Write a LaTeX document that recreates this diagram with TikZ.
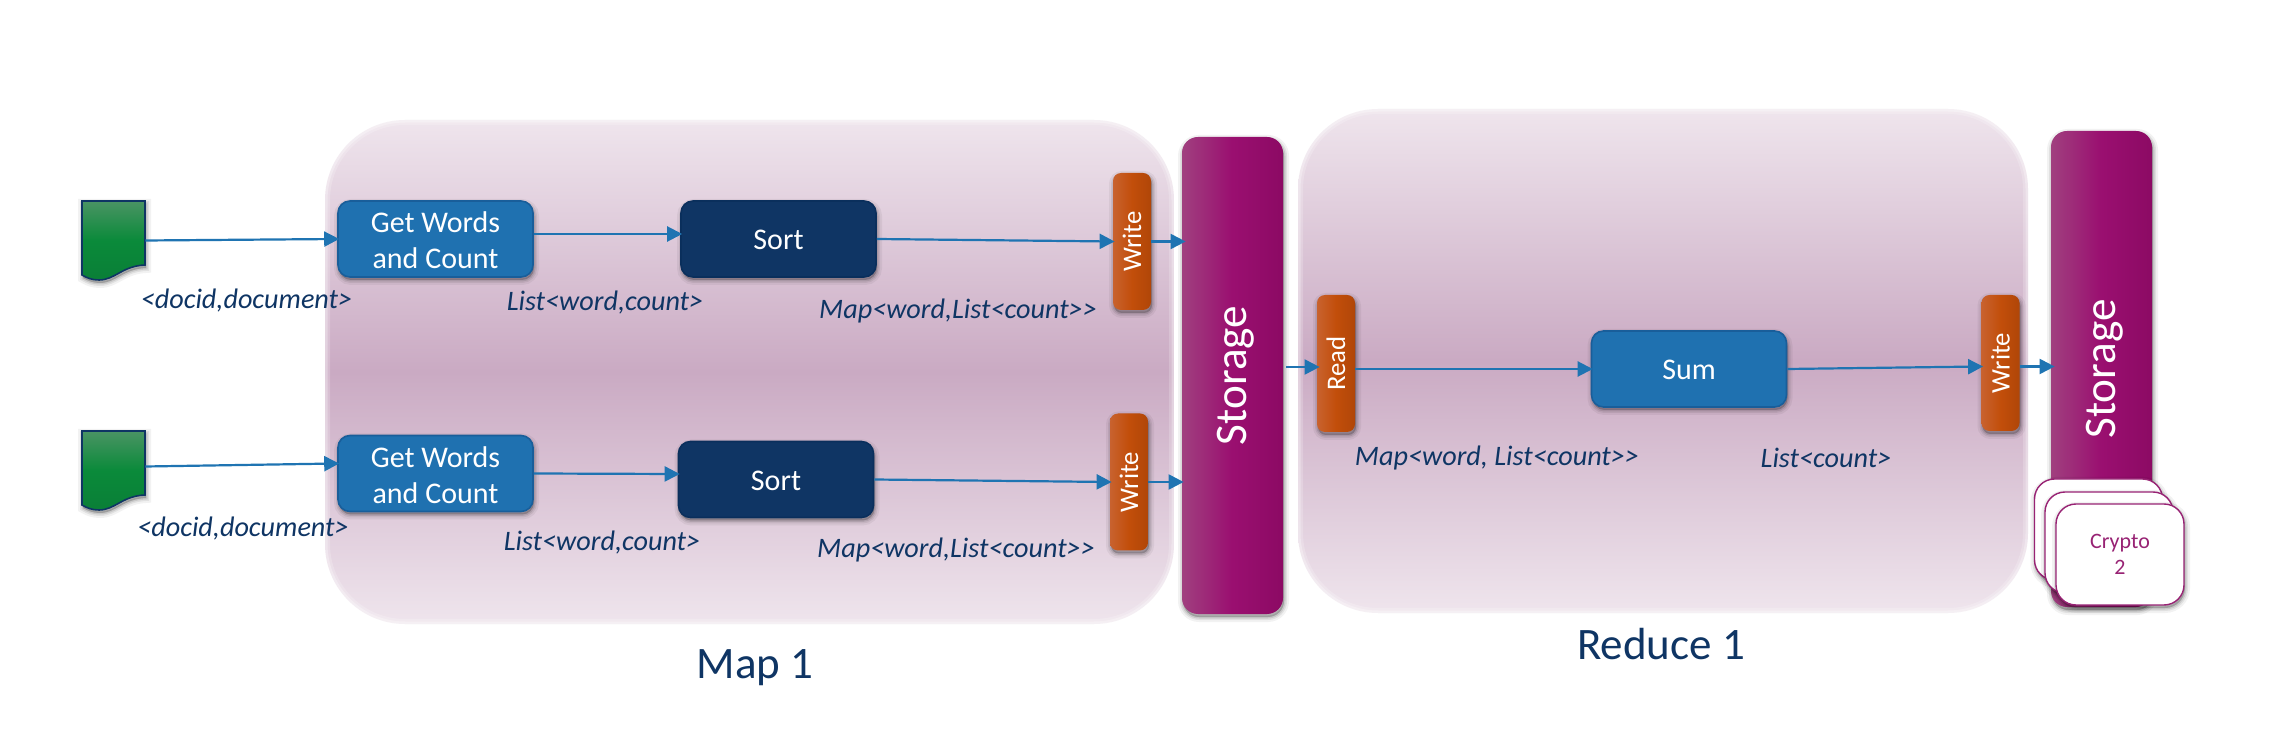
\documentclass[tikz,border=0pt]{standalone}
\usepackage{fontspec}
\setmainfont{Carlito}
\usetikzlibrary{arrows.meta,shadows}
\definecolor{navy}{HTML}{0F3564}
\definecolor{flow}{HTML}{1F74B2}
\definecolor{bluebox}{HTML}{1F71B0}
\definecolor{blueedge}{HTML}{195E9A}
\definecolor{darkedge}{HTML}{0A2F5C}
\definecolor{paneledge}{HTML}{EFE5ED}
\definecolor{panelmid}{HTML}{CAAAC3}
\definecolor{plumL}{HTML}{A0407F}
\definecolor{plumM}{HTML}{9A0F70}
\definecolor{plumR}{HTML}{8C0A64}
\definecolor{orgL}{HTML}{C8622F}
\definecolor{orgM}{HTML}{C24E0A}
\definecolor{orgR}{HTML}{B04608}
\definecolor{grnT}{HTML}{4A9464}
\definecolor{grnM}{HTML}{0A8A3A}
\definecolor{grnB}{HTML}{0A7F37}
\definecolor{cardedge}{HTML}{982374}
\tikzset{
  softshadow/.style={
    preaction={draw=black,fill=black,line width=5pt,opacity=.05,transform canvas={xshift=.5pt,yshift=-1.5pt}},
    preaction={draw=black,fill=black,line width=3pt,opacity=.07,transform canvas={xshift=.5pt,yshift=-1.5pt}},
    preaction={draw=black,fill=black,line width=1.5pt,opacity=.10,transform canvas={xshift=.5pt,yshift=-1.5pt}}},
  panel/.style={rounded corners=40pt,inner sep=0pt,top color=paneledge,bottom color=paneledge,middle color=panelmid,
    postaction={draw=white,line width=5pt,opacity=.2},
    postaction={draw=white,line width=2.5pt,opacity=.3}},
  task/.style={softshadow,rounded corners=6pt,inner sep=0pt,text=white,font=\fontsize{15}{18}\selectfont,line width=.8pt},
  bluetask/.style={task,fill=bluebox,draw=blueedge,minimum width=97.5pt,minimum height=38pt},
  darktask/.style={task,fill=navy,draw=darkedge,minimum width=97.5pt,minimum height=38pt},
  iobox/.style={softshadow,rounded corners=4pt,inner sep=0pt,left color=orgL,right color=orgR,middle color=orgM,text=white,
    minimum width=19pt,minimum height=68.5pt,font=\fontsize{13.4}{16}\selectfont},
  store/.style={softshadow,rounded corners=8pt,inner sep=0pt,left color=plumL,right color=plumR,middle color=plumM,text=white,
    minimum width=50.5pt,font=\fontsize{22.6}{26}\selectfont},
  card/.style={softshadow,rounded corners=10pt,inner sep=0pt,fill=white,draw=cardedge,line width=.7pt,text=cardedge,align=center,
    minimum width=64pt,minimum height=50.5pt,font=\fontsize{11}{13}\selectfont},
  note/.style={inner sep=0pt,text=navy,font=\fontsize{14.1}{18}\selectfont\itshape},
  title/.style={inner sep=0pt,text=navy,font=\fontsize{22.5}{26}\selectfont},
  docframe/.style={inner sep=0pt,minimum width=31.5pt,minimum height=39.5pt},
  docshape/.style={softshadow,draw=navy,line width=.8pt,top color=grnT,bottom color=grnB,middle color=grnM},
  flowline/.style={draw=flow,line width=1.1pt,-{Triangle[length=7.5pt,width=7.5pt]},shorten >=-1pt},
}
\newcommand{\docicon}[2]{\begin{scope}[shift={(#1,#2)}]
  \path[docshape] (82,201) -- (145,201) -- (145,265) .. controls (122,266) and (115,280) .. (99,280) .. controls (92,280) and (87,278) .. (82,275) -- cycle;
\end{scope}}
\newcommand{\getwords}{\raisebox{-6pt}[0pt][0pt]{\begin{tabular}{@{}c@{}}Get Words\\ and Count\end{tabular}}}
\newcommand{\lowtext}[1]{\raisebox{-5.5pt}[0pt][0pt]{#1}}
\newcommand{\sidetext}[1]{\hspace*{3pt}\rotatebox{90}{#1}}
\begin{document}
\begin{tikzpicture}[x=0.5pt,y=-0.5pt]
\useasboundingbox (0,0) rectangle (2293,732);
\fill[white] (0,0) rectangle (2293,732);
% panels
\node[panel,minimum width=424.5pt,minimum height=252pt] (mappanel) at (749.5,372) {};
\node[panel,minimum width=365pt,minimum height=252pt] (redpanel) at (1663,361) {};
\node[title] (maplabel) at (755,667.5) {Map 1};
\node[title] (redlabel) at (1661,644) {Reduce 1};
% documents
\docicon{0}{0}
\node[docframe] (doc1) at (113.5,240.5) {};
\docicon{0}{230}
\node[docframe] (doc2) at (113.5,470.5) {};
% tasks
\node[bluetask] (gw1) at (435.5,239) {\getwords};
\node[bluetask] (gw2) at (435.5,473.5) {\getwords};
\node[darktask] (sort1) at (778.5,239) {\lowtext{Sort}};
\node[darktask] (sort2) at (776,479.5) {\lowtext{Sort}};
\node[bluetask] (sum) at (1689,369) {\lowtext{Sum}};
% storage
\node[store,minimum height=238.5pt] (st1) at (1232.5,375.5) {\sidetext{Storage}};
\node[store,minimum height=238pt] (st2) at (2101.5,369) {\sidetext{Storage}};
% io
\node[iobox] (wr1) at (1132,241.5) {\rotatebox{90}{Write}};
\node[iobox] (wr2) at (1129,482) {\rotatebox{90}{Write}};
\node[iobox] (rd) at (1336,363.5) {\rotatebox{90}{Read}};
\node[iobox,minimum height=68pt] (wr3) at (2000.5,363) {\rotatebox{90}{Write}};
% cards
\node[card] (c1) at (2098.5,529.5) {};
\node[card] (c2) at (2109,542.5) {};
\node[card] (c3) at (2120,554.5) {\raisebox{-1pt}{Crypto}\\[1pt]2};
% labels
\node[note] (n1) at (246.5,301) {<docid,document>};
\node[note] (n2) at (605,303) {List<word,count>};
\node[note] (n3) at (958,311) {Map<word,List<count>{}>};
\node[note] (n4) at (243,529) {<docid,document>};
\node[note] (n5) at (602,542.5) {List<word,count>};
\node[note] (n6) at (956,550) {Map<word,List<count>{}>};
\node[note] (n7) at (1497,458) {Map<word, List<count>{}>};
\node[note] (n8) at (1826,458) {List<count>};
% connectors
\draw[flowline] (doc1.east) -- (gw1.west);
\draw[flowline] ([yshift=2pt]doc2.east) -- ([yshift=5pt]gw2.west);
\draw[flowline] ([yshift=2.5pt]gw1.east) -- ([yshift=2.5pt]sort1.west);
\draw[flowline] (gw2.east) -- ([yshift=2.75pt]sort2.west);
\draw[flowline] (sort1.east) -- (wr1.west);
\draw[flowline] (sort2.east) -- (wr2.west);
\draw[flowline,shorten >=-2pt] (wr1.east) -- (wr1.east -| st1.west);
\draw[flowline,shorten >=-1pt] (wr2.east) -- (wr2.east -| st1.west);
\draw[flowline,shorten <=1.5pt,shorten >=-1.5pt] ([yshift=4.25pt]st1.east) -- ([yshift=-1.75pt]rd.west);
\draw[flowline] ([yshift=-2.75pt]rd.east) -- (sum.west);
\draw[flowline] (sum.east) -- ([yshift=-1.75pt]wr3.west);
\draw[flowline,shorten >=-2pt] ([yshift=-1.75pt]wr3.east) -- ([yshift=-1.75pt]wr3.east -| st2.west);
\end{tikzpicture}
\end{document}
